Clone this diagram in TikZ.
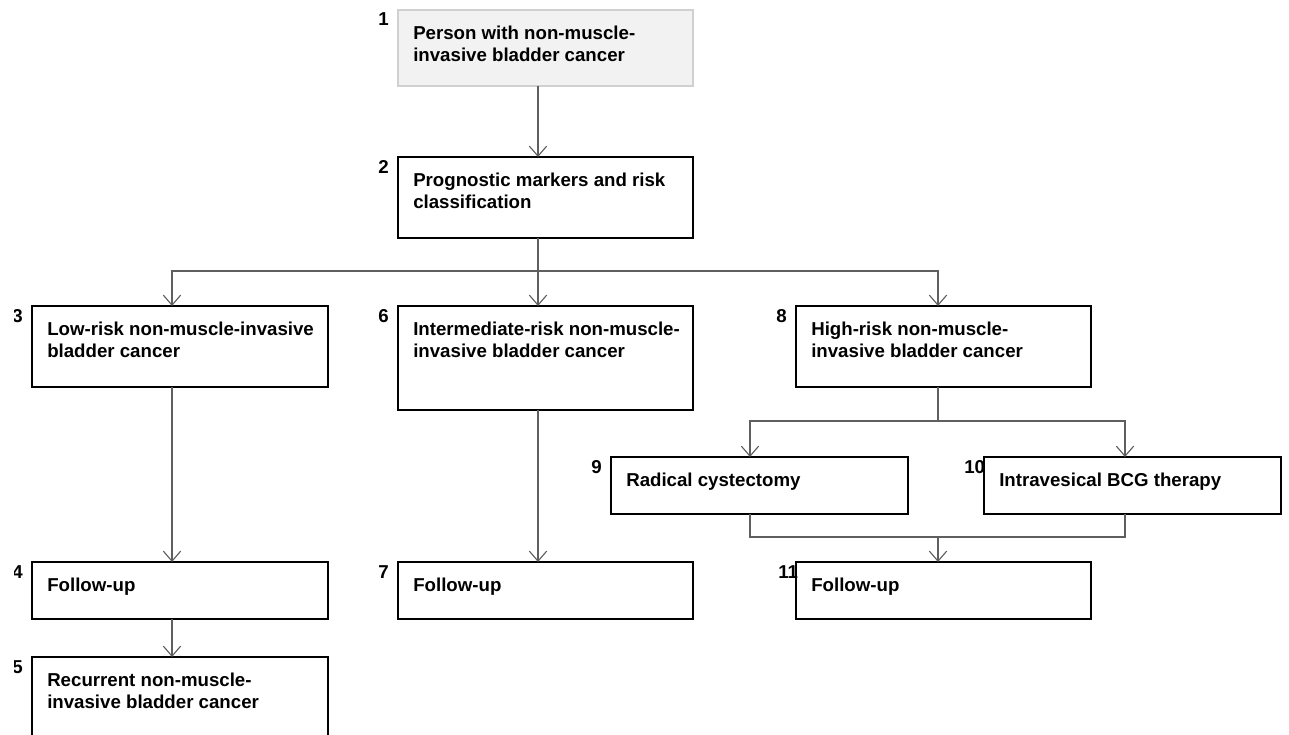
\documentclass[tikz,border=0pt]{standalone}
\usepackage{fontspec}
\setmainfont{Liberation Sans}
\usetikzlibrary{arrows.meta,calc}
\definecolor{connc}{HTML}{5F5F5F}
\definecolor{startfill}{HTML}{F2F2F2}
\definecolor{startdraw}{HTML}{D0D0D0}
\begin{document}
\begin{tikzpicture}[x=0.75pt,y=-0.75pt,
  box/.style={draw=black,line width=1.2pt,inner sep=0pt,outer sep=0pt,anchor=north west},
  startbox/.style={box,draw=startdraw,fill=startfill,line width=0.8pt},
  txt/.style={anchor=north west,inner sep=0pt,align=left,font=\fontsize{14}{16.5}\selectfont\bfseries},
  num/.style={anchor=base west,inner sep=0pt,font=\fontsize{14}{16.5}\selectfont\bfseries},
  ln/.style={draw=connc,line width=0.85pt},
  arr/.style={ln,-{Straight Barb[length=7.5pt,width=13pt]}}]
\useasboundingbox (0,0) rectangle (1289,735);
\clip (0,0) rectangle (1289,735);
% boxes
\node[startbox,minimum width={295*0.75pt},minimum height={76*0.75pt}] (b1) at (398,10) {};
\node[box,minimum width={295*0.75pt},minimum height={81*0.75pt}] (b2) at (398,157) {};
\node[box,minimum width={296*0.75pt},minimum height={81*0.75pt}] (b3) at (32,306) {};
\node[box,minimum width={295*0.75pt},minimum height={104*0.75pt}] (b6) at (398,306) {};
\node[box,minimum width={295*0.75pt},minimum height={81*0.75pt}] (b8) at (796,306) {};
\node[box,minimum width={297*0.75pt},minimum height={57*0.75pt}] (b9) at (611,457) {};
\node[box,minimum width={297*0.75pt},minimum height={57*0.75pt}] (b10) at (984,457) {};
\node[box,minimum width={296*0.75pt},minimum height={57*0.75pt}] (b4) at (32,562) {};
\node[box,minimum width={295*0.75pt},minimum height={57*0.75pt}] (b7) at (398,562) {};
\node[box,minimum width={295*0.75pt},minimum height={57*0.75pt}] (b11) at (796,562) {};
\node[box,minimum width={296*0.75pt},minimum height={100*0.75pt}] (b5) at (32,657) {};
% texts
\node[txt] (t1) at ($(b1.north west)+(15,14)$) {\rule{0pt}{11.25pt}Person with non-muscle-\\invasive bladder cancer};
\node[txt] (t2) at ($(b2.north west)+(15,14)$) {\rule{0pt}{11.25pt}Prognostic markers and risk\\classification};
\node[txt] (t3) at ($(b3.north west)+(15,14)$) {\rule{0pt}{11.25pt}Low-risk non-muscle-invasive\\bladder cancer};
\node[txt] (t6) at ($(b6.north west)+(15,14)$) {\rule{0pt}{11.25pt}Intermediate-risk non-muscle-\\invasive bladder cancer};
\node[txt] (t8) at ($(b8.north west)+(15,14)$) {\rule{0pt}{11.25pt}High-risk non-muscle-\\invasive bladder cancer};
\node[txt] (t9) at ($(b9.north west)+(15,14)$) {\rule{0pt}{11.25pt}Radical cystectomy};
\node[txt] (t10) at ($(b10.north west)+(15,14)$) {\rule{0pt}{11.25pt}Intravesical BCG therapy};
\node[txt] (t4) at ($(b4.north west)+(15,14)$) {\rule{0pt}{11.25pt}Follow-up};
\node[txt] (t7) at ($(b7.north west)+(15,14)$) {\rule{0pt}{11.25pt}Follow-up};
\node[txt] (t11) at ($(b11.north west)+(15,14)$) {\rule{0pt}{11.25pt}Follow-up};
\node[txt] (t5) at ($(b5.north west)+(15,14)$) {\rule{0pt}{11.25pt}Recurrent non-muscle-\\invasive bladder cancer};
% numbers
\node[num] (n1) at ($(b1.north west)+(-20,16)$) {1};
\node[num] (n2) at ($(b2.north west)+(-20,16)$) {2};
\node[num] (n6) at ($(b6.north west)+(-20,16)$) {6};
\node[num] (n8) at ($(b8.north west)+(-20,16)$) {8};
\node[num] (n9) at ($(b9.north west)+(-20,16)$) {9};
\node[num] (n10) at ($(b10.north west)+(-20,16)$) {10};
\node[num] (n7) at ($(b7.north west)+(-20,16)$) {7};
\node[num] (n11) at ($(b11.north west)+(-18,16)$) {11};
\begin{scope}
\clip (14,0) rectangle (1289,735);
\node[num] (n3) at ($(b3.north west)+(-20,16)$) {3};
\node[num] (n4) at ($(b4.north west)+(-20,16)$) {4};
\node[num] (n5) at ($(b5.north west)+(-20,16)$) {5};
\end{scope}
% connectors
\draw[arr] ($(b1.south west)+(140,0)$) -- ($(b2.north west)+(140,0)$);
\coordinate (bus) at ($(b2.south west)+(140,33)$);
\draw[arr] ($(b2.south west)+(140,0)$) -- ($(b6.north west)+(140,0)$);
\draw[arr] (bus) -| ($(b3.north west)+(140,0)$);
\draw[arr] (bus) -| ($(b8.north west)+(142,0)$);
\draw[arr] ($(b3.south west)+(140,0)$) -- ($(b4.north west)+(140,0)$);
\draw[arr] ($(b4.south west)+(140,0)$) -- ($(b5.north west)+(140,0)$);
\draw[arr] ($(b6.south west)+(140,0)$) -- ($(b7.north west)+(140,0)$);
\coordinate (s8) at ($(b8.south west)+(142,34)$);
\draw[ln] ($(b8.south west)+(142,0)$) -- (s8);
\draw[arr] (s8) -| ($(b9.north west)+(139,0)$);
\draw[arr] (s8) -| ($(b10.north west)+(141,0)$);
\draw[ln] ($(b9.south west)+(139,0)$) |- ($(b10.south west)+(141,23)$) -- ($(b10.south west)+(141,0)$);
\coordinate (j) at ($(b11.north west)+(142,-25)$);
\draw[arr] (j) -- ($(b11.north west)+(142,0)$);
\end{tikzpicture}
\end{document}
